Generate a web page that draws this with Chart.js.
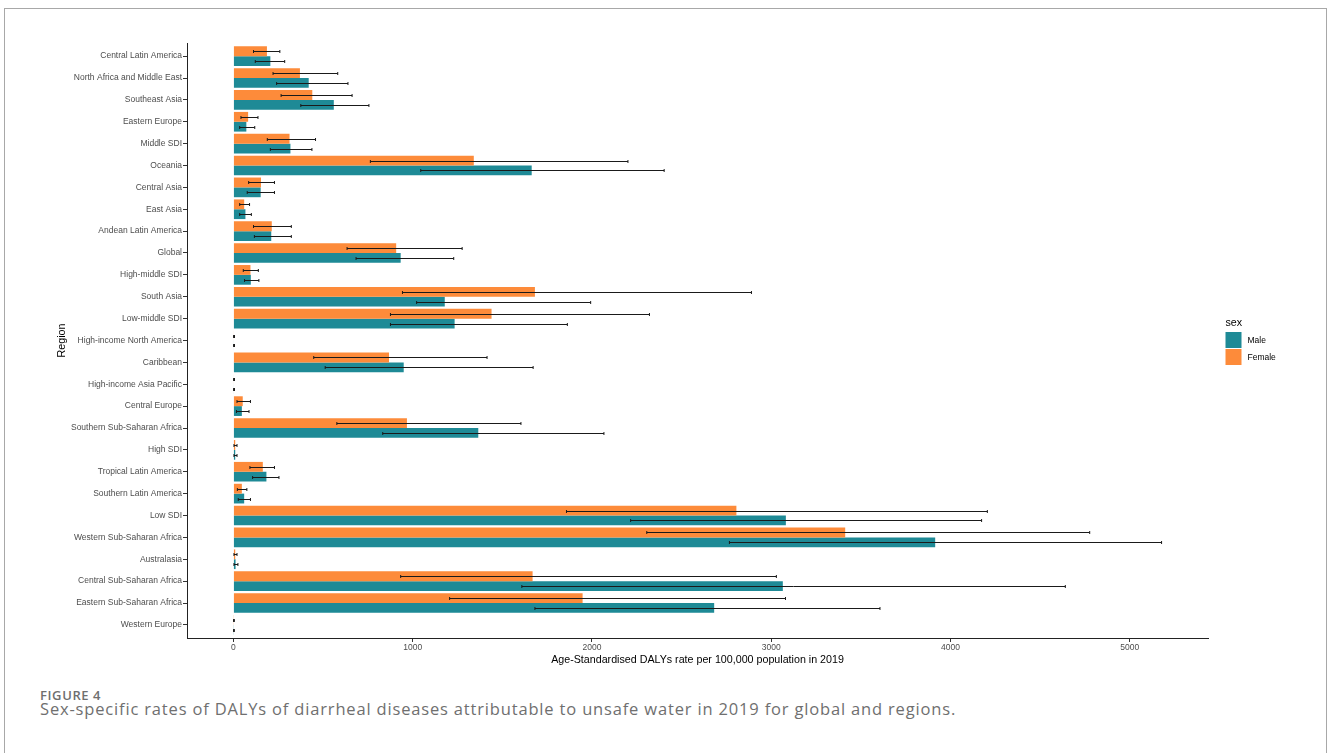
<!DOCTYPE html>
<html>
<head>
<meta charset="utf-8">
<script src="https://cdn.jsdelivr.net/npm/chart.js@4.4.1/dist/chart.umd.min.js"></script>
<style>
  html, body { margin: 0; padding: 0; background: #fff; }
  body { width: 1328px; height: 753px; position: relative; overflow: hidden; }
  .frame { position: absolute; left: 4px; top: 8px; width: 1321px; height: 780px; border: 1px solid #a8a8a8; }
  .chart-box { position: absolute; left: 0; top: 0; width: 1328px; height: 680px; }
  .fig-label { position: absolute; left: 40px; top: 688.5px; font: 600 13px/1 'Open Sans', sans-serif; color: #6f6f6f; letter-spacing: .6px; white-space: nowrap; }
  .fig-caption { position: absolute; left: 40px; top: 701px; font: 400 16.5px/1 'Open Sans', sans-serif; color: #6f6f6f; letter-spacing: .83px; white-space: nowrap; }
</style>
</head>
<body>
<div class="frame"></div>
<div class="chart-box"><canvas id="chart"></canvas></div>
<div class="fig-label">FIGURE 4</div>
<div class="fig-caption">Sex-specific rates of DALYs of diarrheal diseases attributable to unsafe water in 2019 for global and regions.</div>
<script>
const regions = [
  'Central Latin America', 'North Africa and Middle East', 'Southeast Asia', 'Eastern Europe',
  'Middle SDI', 'Oceania', 'Central Asia', 'East Asia', 'Andean Latin America', 'Global',
  'High-middle SDI', 'South Asia', 'Low-middle SDI', 'High-income North America', 'Caribbean',
  'High-income Asia Pacific', 'Central Europe', 'Southern Sub-Saharan Africa', 'High SDI',
  'Tropical Latin America', 'Southern Latin America', 'Low SDI', 'Western Sub-Saharan Africa',
  'Australasia', 'Central Sub-Saharan Africa', 'Eastern Sub-Saharan Africa', 'Western Europe'
];

// age-standardised DALYs rate per 100,000, with 95% UI
const female     = [187, 371, 440, 82, 313, 1341, 154, 60, 214, 908, 95, 1682, 1440, 3, 868, 3, 52, 968, 10, 164, 47, 2806, 3413, 10, 1669, 1948, 2];
const femaleLow  = [112, 221, 266, 42, 189, 764, 85, 35, 112, 634, 55, 943, 876, 1, 448, 1, 20, 577, 3, 92, 22, 1858, 2306, 3, 933, 1206, 1];
const femaleHigh = [259, 582, 662, 137, 458, 2201, 229, 90, 323, 1276, 139, 2890, 2321, 6, 1415, 6, 95, 1604, 20, 229, 75, 4206, 4777, 20, 3029, 3080, 5];

const male     = [206, 420, 560, 72, 318, 1664, 152, 67, 211, 933, 97, 1179, 1234, 3, 950, 3, 47, 1366, 10, 184, 60, 3082, 3915, 12, 3065, 2682, 2];
const maleLow  = [122, 241, 376, 35, 206, 1045, 77, 35, 117, 684, 62, 1022, 876, 1, 512, 1, 17, 833, 3, 107, 27, 2216, 2767, 3, 1609, 1682, 1];
const maleHigh = [286, 639, 756, 119, 438, 2403, 229, 100, 323, 1229, 142, 1993, 1863, 6, 1672, 6, 87, 2067, 20, 254, 95, 4174, 5178, 25, 4641, 3607, 5];

const xTicks = [0, 1000, 2000, 3000, 4000, 5000];
const xMin = -259, xMax = 5437;

const FONT = "'Liberation Sans', Arial, sans-serif";

// horizontal error bar through the middle of each bar
const errorBars = {
  id: 'errorBars',
  afterDatasetsDraw(chart) {
    const { ctx, scales: { x } } = chart;
    ctx.save();
    ctx.strokeStyle = '#1a1a1a';
    ctx.lineWidth = 1;
    chart.data.datasets.forEach((ds, di) => {
      chart.getDatasetMeta(di).data.forEach((bar, i) => {
        const x0 = x.getPixelForValue(ds.low[i]);
        const x1 = x.getPixelForValue(ds.high[i]);
        const y = Math.round(bar.y) + 0.5;
        ctx.beginPath();
        ctx.moveTo(x0, y); ctx.lineTo(x1, y);
        ctx.moveTo(x0, y - 1.5); ctx.lineTo(x0, y + 1.5);
        ctx.moveTo(x1, y - 1.5); ctx.lineTo(x1, y + 1.5);
        ctx.stroke();
      });
    });
    ctx.restore();
  }
};

// key to the right of the plot, Male listed first
const sideLegend = {
  id: 'sideLegend',
  afterDraw(chart) {
    const { ctx, chartArea } = chart;
    const left = chartArea.right + 17.5;
    const mid = (chartArea.top + chartArea.bottom) / 2;
    ctx.save();
    ctx.textBaseline = 'middle';
    ctx.textAlign = 'left';
    ctx.fillStyle = '#000';
    ctx.font = `10.7px ${FONT}`;
    ctx.fillText('sex', left, mid - 17.5);
    [1, 0].forEach((di, k) => {
      const ds = chart.data.datasets[di];
      const top = mid - 8.5 + k * 17;
      ctx.fillStyle = ds.backgroundColor;
      ctx.fillRect(left, top, 16, 16);
      ctx.fillStyle = '#000';
      ctx.font = `8.5px ${FONT}`;
      ctx.fillText(ds.label, left + 22, top + 8.5);
    });
    ctx.restore();
  }
};

new Chart(document.getElementById('chart'), {
  type: 'bar',
  data: {
    labels: regions.map((_, i) => i),
    datasets: [
      { label: 'Female', data: female, low: femaleLow, high: femaleHigh, backgroundColor: '#fd8b3a' },
      { label: 'Male', data: male, low: maleLow, high: maleHigh, backgroundColor: '#1e8a96' }
    ]
  },
  options: {
    indexAxis: 'y',
    responsive: true,
    maintainAspectRatio: false,
    animation: false,
    devicePixelRatio: 1,
    categoryPercentage: 0.9,
    barPercentage: 1,
    layout: { padding: { left: 50, right: 120, top: 43, bottom: 0 } },
    plugins: {
      legend: { display: false },
      tooltip: { enabled: false }
    },
    scales: {
      y: {
        type: 'linear',
        reverse: true,
        offset: false,
        min: -0.6,
        max: 26.6,
        afterBuildTicks: axis => { axis.ticks = regions.map((_, i) => ({ value: i })); },
        afterFit: axis => { axis.width = 137; },
        ticks: {
          autoSkip: false,
          padding: 1,
          color: '#4d4d4d',
          font: { family: FONT, size: 8.5 },
          callback: v => regions[v]
        },
        grid: { offset: false, drawOnChartArea: false, drawTicks: true, tickLength: 4, color: '#333' },
        border: { display: true, color: '#222', width: 1 },
        title: {
          display: true, text: 'Region', color: '#000',
          font: { family: FONT, size: 10.7 },
          padding: { top: 5.5, bottom: 0 }
        }
      },
      x: {
        type: 'linear',
        min: xMin,
        max: xMax,
        afterBuildTicks: axis => { axis.ticks = xTicks.map(v => ({ value: v })); },
        afterFit: axis => { axis.height = 42; },
        ticks: {
          padding: 1,
          maxRotation: 0,
          color: '#4d4d4d',
          font: { family: FONT, size: 8.5 },
          callback: v => String(v)
        },
        grid: { drawOnChartArea: false, drawTicks: true, tickLength: 4, color: '#333' },
        border: { display: true, color: '#222', width: 1 },
        title: {
          display: true,
          text: 'Age-Standardised DALYs rate per 100,000 population in 2019',
          color: '#000',
          font: { family: FONT, size: 10.7 },
          padding: { top: 0, bottom: 13.6 }
        }
      }
    }
  },
  plugins: [errorBars, sideLegend]
});
</script>
</body>
</html>
